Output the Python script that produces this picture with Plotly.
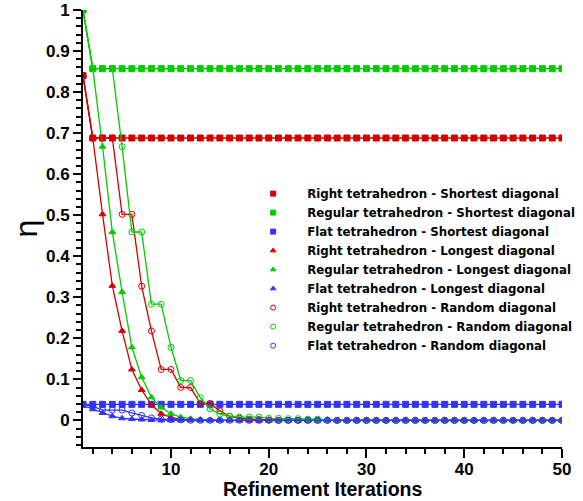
import plotly.graph_objects as go

iterations = list(range(1, 51))

right_shortest = [0.84, 0.688, 0.688, 0.688, 0.688, 0.688, 0.688, 0.688, 0.688, 0.688,
                  0.688, 0.688, 0.688, 0.688, 0.688, 0.688, 0.688, 0.688, 0.688, 0.688,
                  0.688, 0.688, 0.688, 0.688, 0.688, 0.688, 0.688, 0.688, 0.688, 0.688,
                  0.688, 0.688, 0.688, 0.688, 0.688, 0.688, 0.688, 0.688, 0.688, 0.688,
                  0.688, 0.688, 0.688, 0.688, 0.688, 0.688, 0.688, 0.688, 0.688, 0.688]
regular_shortest = [1.0, 0.857, 0.857, 0.857, 0.857, 0.857, 0.857, 0.857, 0.857, 0.857,
                    0.857, 0.857, 0.857, 0.857, 0.857, 0.857, 0.857, 0.857, 0.857, 0.857,
                    0.857, 0.857, 0.857, 0.857, 0.857, 0.857, 0.857, 0.857, 0.857, 0.857,
                    0.857, 0.857, 0.857, 0.857, 0.857, 0.857, 0.857, 0.857, 0.857, 0.857,
                    0.857, 0.857, 0.857, 0.857, 0.857, 0.857, 0.857, 0.857, 0.857, 0.857]
flat_shortest = [0.039, 0.039, 0.039, 0.039, 0.039, 0.039, 0.039, 0.039, 0.039, 0.039,
                 0.039, 0.039, 0.039, 0.039, 0.039, 0.039, 0.039, 0.039, 0.039, 0.039,
                 0.039, 0.039, 0.039, 0.039, 0.039, 0.039, 0.039, 0.039, 0.039, 0.039,
                 0.039, 0.039, 0.039, 0.039, 0.039, 0.039, 0.039, 0.039, 0.039, 0.039,
                 0.039, 0.039, 0.039, 0.039, 0.039, 0.039, 0.039, 0.039, 0.039, 0.039]

right_longest = [0.84, 0.688, 0.502, 0.328, 0.218, 0.124, 0.074, 0.038, 0.016, 0.007,
                 0.003, 0.001, 0, 0, 0, 0, 0, 0, 0, 0,
                 0, 0, 0, 0, 0, 0, 0, 0, 0, 0,
                 0, 0, 0, 0, 0, 0, 0, 0, 0, 0,
                 0, 0, 0, 0, 0, 0, 0, 0, 0, 0]
regular_longest = [1.0, 0.857, 0.667, 0.459, 0.313, 0.178, 0.105, 0.056, 0.031, 0.016,
                   0.008, 0.004, 0.002, 0.001, 0, 0, 0, 0, 0, 0,
                   0, 0, 0, 0, 0, 0, 0, 0, 0, 0,
                   0, 0, 0, 0, 0, 0, 0, 0, 0, 0,
                   0, 0, 0, 0, 0, 0, 0, 0, 0, 0]
flat_longest = [0.036, 0.027, 0.018, 0.010, 0.005, 0.003, 0.002, 0.001, 0, 0,
                0, 0, 0, 0, 0, 0, 0, 0, 0, 0,
                0, 0, 0, 0, 0, 0, 0, 0, 0, 0,
                0, 0, 0, 0, 0, 0, 0, 0, 0, 0,
                0, 0, 0, 0, 0, 0, 0, 0, 0, 0]

right_random = [0.84, 0.688, 0.688, 0.688, 0.502, 0.502, 0.327, 0.218, 0.124, 0.124,
                0.080, 0.080, 0.041, 0.041, 0.023, 0.010, 0.005, 0.003, 0.002, 0.001,
                0, 0, 0, 0, 0, 0, 0, 0, 0, 0,
                0, 0, 0, 0, 0, 0, 0, 0, 0, 0,
                0, 0, 0, 0, 0, 0, 0, 0, 0, 0]
regular_random = [1.0, 0.857, 0.857, 0.857, 0.667, 0.459, 0.459, 0.283, 0.283, 0.178,
                  0.097, 0.097, 0.055, 0.028, 0.015, 0.010, 0.008, 0.008, 0.008, 0.005,
                  0.005, 0.004, 0.004, 0.003, 0.003, 0.001, 0, 0, 0, 0,
                  0, 0, 0, 0, 0, 0, 0, 0, 0, 0,
                  0, 0, 0, 0, 0, 0, 0, 0, 0, 0]
flat_random = [0.039, 0.034, 0.025, 0.025, 0.025, 0.018, 0.012, 0.006, 0.003, 0.002,
               0.001, 0, 0, 0, 0, 0, 0, 0, 0, 0,
               0, 0, 0, 0, 0, 0, 0, 0, 0, 0,
               0, 0, 0, 0, 0, 0, 0, 0, 0, 0,
               0, 0, 0, 0, 0, 0, 0, 0, 0, 0]

series_names = [
    "Right tetrahedron - Shortest diagonal",
    "Regular tetrahedron - Shortest diagonal",
    "Flat tetrahedron - Shortest diagonal",
    "Right tetrahedron - Longest diagonal",
    "Regular tetrahedron - Longest diagonal",
    "Flat tetrahedron - Longest diagonal",
    "Right tetrahedron - Random diagonal",
    "Regular tetrahedron - Random diagonal",
    "Flat tetrahedron - Random diagonal",
]
series_values = [right_shortest, regular_shortest, flat_shortest,
                 right_longest, regular_longest, flat_longest,
                 right_random, regular_random, flat_random]

RED, GREEN, BLUE = "#d40000", "#00cc00", "#3333ff"
colors = [RED, GREEN, BLUE] * 3
symbols = ["square"] * 3 + ["triangle-up"] * 3 + ["circle-open"] * 3

fig = go.Figure()
for name, vals, c, s in zip(series_names, series_values, colors, symbols):
    fig.add_trace(go.Scatter(
        x=iterations, y=vals, mode="lines+markers", showlegend=False,
        line=dict(color=c, width=1.3),
        marker=dict(symbol=s, size=6, color=c, line=dict(color=c, width=1)),
    ))
# legend entries (marker only, as in the reference)
for name, c, s in zip(series_names, colors, symbols):
    fig.add_trace(go.Scatter(
        x=[None], y=[None], mode="markers", name=name,
        marker=dict(symbol=s, size=5, color=c, line=dict(color=c, width=1)),
    ))

tickfont = dict(family="Liberation Sans, Arial", size=17, color="black", weight="bold")

fig.update_layout(
    width=583, height=501,
    margin=dict(l=83, r=21, t=10, b=54, autoexpand=False),
    plot_bgcolor="white", paper_bgcolor="white",
    showlegend=True,
    legend=dict(
        x=0.326, xanchor="left", y=0.613, yanchor="top",
        bgcolor="rgba(0,0,0,0)", borderwidth=0,
        itemwidth=58,
        font=dict(family="DejaVu Sans", size=11.8, color="black", weight="bold"),
    ),
    xaxis=dict(
        range=[1, 50], tick0=0, dtick=10, showgrid=False, zeroline=False,
        automargin=False,
        showline=True, linecolor="black", linewidth=2,
        ticks="outside", ticklen=9, tickwidth=2, tickcolor="black",
        ticklabelstandoff=-3,
        tickfont=tickfont,
        minor=dict(tick0=0, dtick=2, ticks="outside", ticklen=5, tickwidth=1.5, tickcolor="black"),
    ),
    yaxis=dict(
        range=[-0.065, 1.0], tick0=0, dtick=0.1, showgrid=False, zeroline=False,
        automargin=False,
        showline=True, linecolor="black", linewidth=2,
        ticks="outside", ticklen=8, tickwidth=2, tickcolor="black",
        tickfont=tickfont,
        minor=dict(tick0=0, dtick=0.02, ticks="outside", ticklen=5, tickwidth=1.5, tickcolor="black"),
    ),
    annotations=[
        dict(text="Refinement Iterations", xref="paper", yref="paper", x=0.5, y=-0.096,
             xanchor="center", yanchor="middle", showarrow=False,
             font=dict(family="Liberation Sans, Arial", size=19.5, color="black", weight="bold")),
        dict(text="η", xref="paper", yref="paper", x=-0.121, y=0.5,
             xanchor="center", yanchor="middle", showarrow=False, textangle=-90,
             font=dict(family="Liberation Sans, Arial", size=32, color="black")),
    ],
)

fig.write_html("out.html")
